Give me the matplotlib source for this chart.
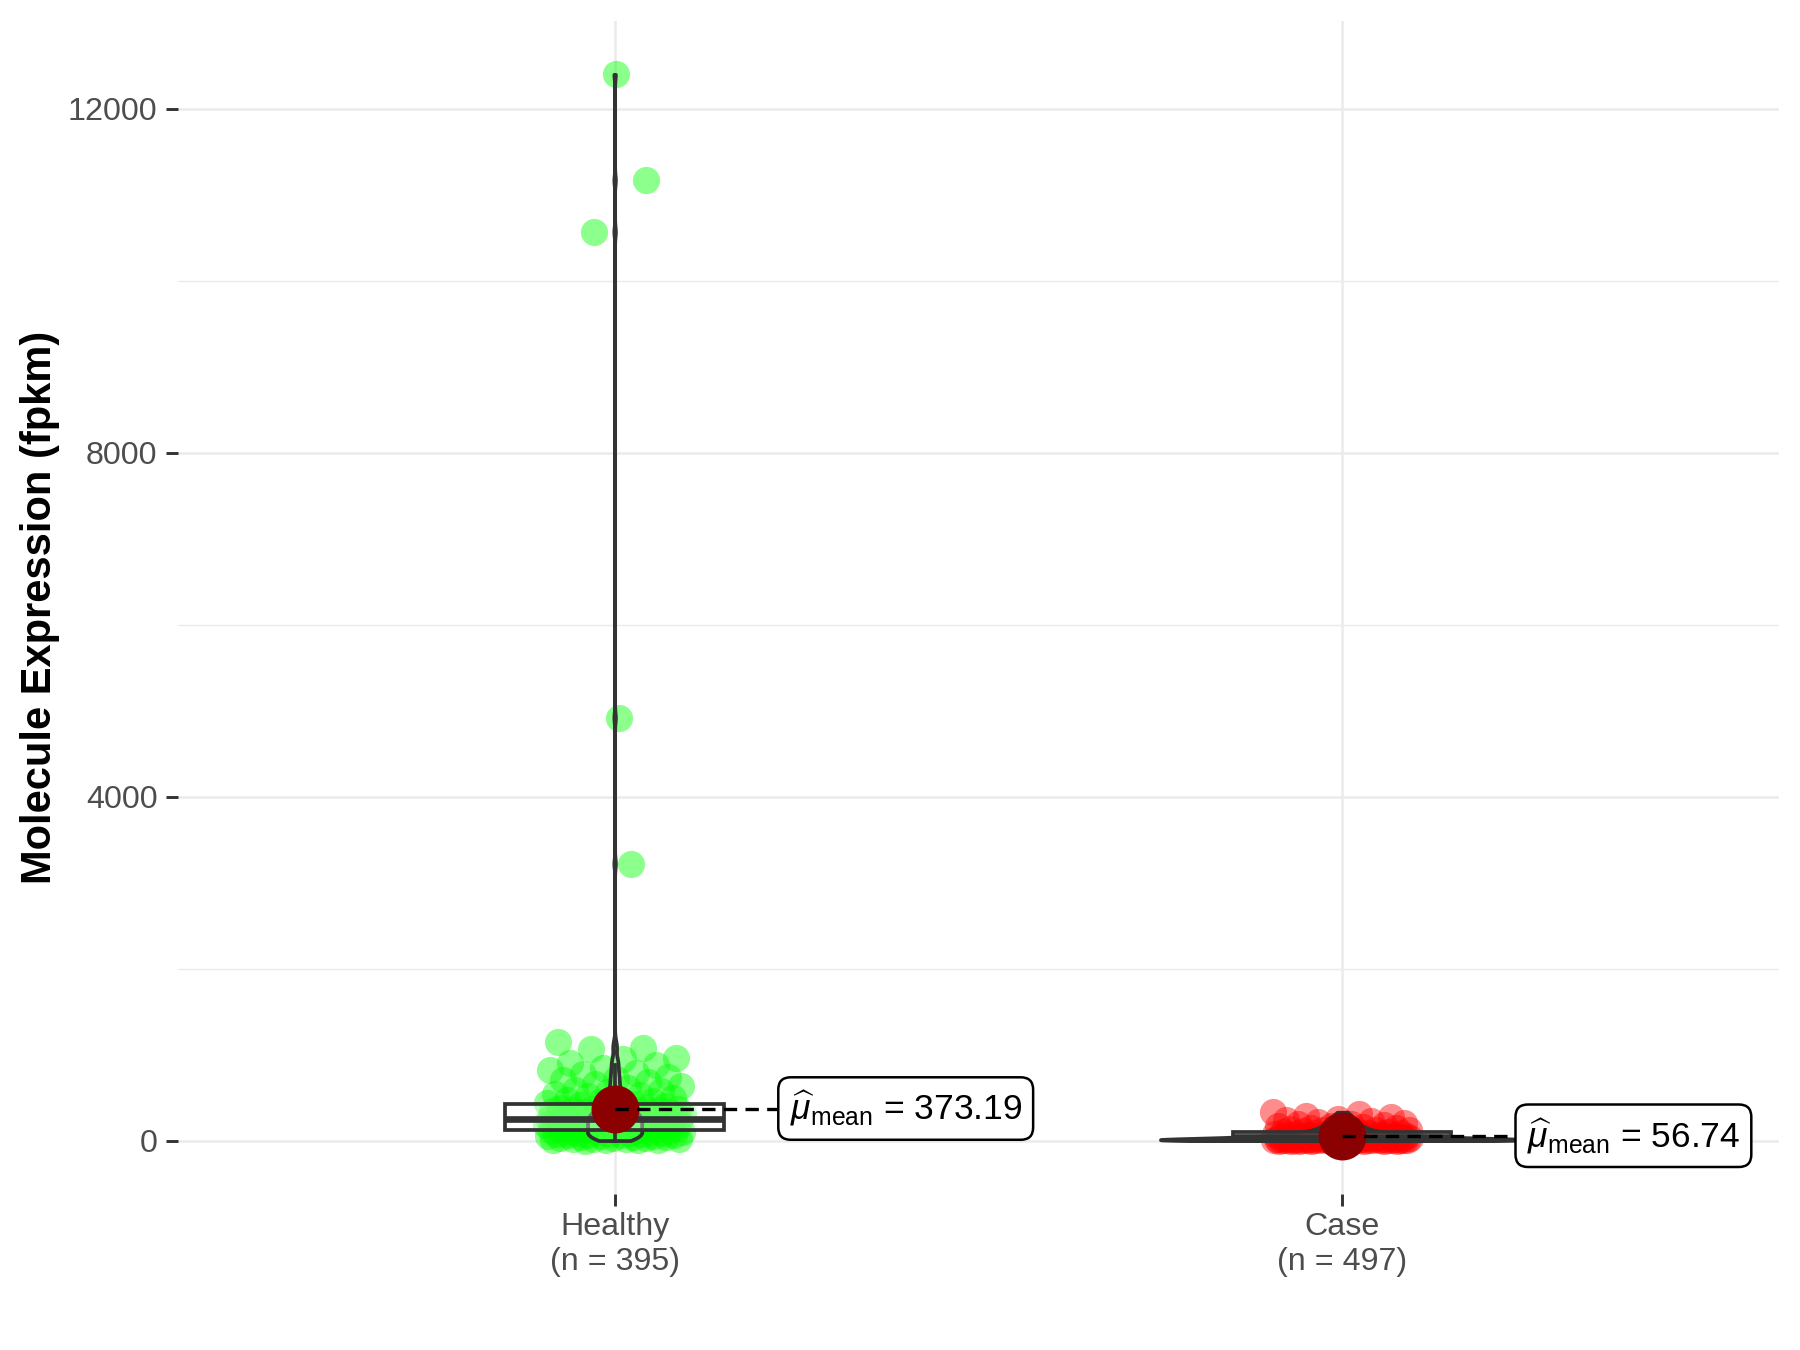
import numpy as np
import matplotlib
matplotlib.use("Agg")
import matplotlib.pyplot as plt

# Data
groups = ["Healthy", "Case"]
group_n = [395, 497]
group_means = [373.19, 56.74]

healthy = [12400, 11170, 10570, 4920, 3220,
           1150, 1080, 1065, 960, 945, 905, 880, 850, 820, 790, 770, 745, 720, 700, 680, 655, 630, 610,
           590, 575, 560, 545, 530, 515, 500, 485, 470, 458, 446, 434, 422, 410, 400, 392, 385,
           378, 372, 369, 363, 360, 355, 351, 347, 340, 337, 333, 327, 322, 318, 313, 309, 305, 300,
           296, 293, 288, 284, 279, 275, 271, 268, 264, 259, 256, 252, 249, 246, 244, 241,
           238, 235, 231, 228, 224, 220, 216, 212, 208, 204, 199, 195, 191, 187, 183, 178, 174,
           170, 166, 162, 158, 154, 150, 146, 142, 138, 134, 130, 126, 122, 118, 115, 112,
           108, 104, 100, 97, 93, 90, 86, 82, 79, 75, 71, 68, 64, 60, 57, 53, 49, 46, 42, 38,
           35, 31, 27, 24, 20, 17, 14, 11, 8, 5, 3, 1]
# horizontal jitter of the isolated high points
healthy_outlier_jitter = [0.002, 0.043, -0.028, 0.006, 0.022]

case = [330, 305, 290, 270, 255, 240, 228, 215, 205, 196, 188, 180, 172, 165, 158, 151, 145, 139,
        133, 128, 123, 118, 113, 109, 105, 101, 97, 94, 91, 88, 85, 82, 79, 76, 74, 72, 70, 67,
        65, 63, 61, 59, 57, 55, 53, 51, 49, 47, 45, 44, 42, 41, 39, 38, 36, 35, 34, 32, 31, 30,
        29, 28, 27, 26, 25, 24, 23, 22, 21, 20, 19, 18, 17, 16, 15, 14, 13, 12, 11, 10, 9, 9,
        8, 8, 7, 7, 6, 6, 5, 5, 4, 4, 3, 3, 3, 2, 2, 2, 1, 1, 1, 1, 0.5, 0.5, 0.3, 0.2, 0.1, 0.1]

point_colors = ["#00FF00", "#FF0000"]
violin_widths = [0.075, 0.5]
bandwidths = [55, 14]

plt.rcParams["font.family"] = ["Liberation Sans", "DejaVu Sans"]
plt.rcParams["mathtext.fontset"] = "custom"
plt.rcParams["mathtext.rm"] = "Liberation Sans"
plt.rcParams["mathtext.it"] = "Liberation Sans:italic"

fig = plt.figure(figsize=(12, 9), dpi=150)
ax = fig.add_axes([0.0989, 0.1156, 0.8894, 0.8688])

data = [np.array(healthy, float), np.array(case, float)]
positions = [1, 2]

for i, vals in enumerate(data):
    pos = positions[i]
    # jittered points (deterministic spread)
    k = np.arange(len(vals))
    offs = ((k * 0.6180339887) % 1.0 - 0.5) * 0.19
    if i == 0:
        offs[:len(healthy_outlier_jitter)] = healthy_outlier_jitter
    ax.scatter(pos + offs, vals, s=170, color=point_colors[i], alpha=0.45,
               linewidths=0, zorder=2)

    # violin
    bw = bandwidths[i] / np.std(vals, ddof=1)
    vp = ax.violinplot([vals], positions=[pos], widths=violin_widths[i],
                       showextrema=False, bw_method=bw, points=600)
    for b in vp["bodies"]:
        b.set_facecolor((1, 1, 1, 0.2))
        b.set_edgecolor("#333333")
        b.set_linewidth(1.8)
        b.set_alpha(None)
        b.set_zorder(3)

    # box
    ax.boxplot([vals], positions=[pos], widths=0.3, showfliers=False, showcaps=False,
               patch_artist=True, manage_ticks=False,
               boxprops=dict(facecolor=(1, 1, 1, 0.35), edgecolor="#333333", linewidth=1.8),
               medianprops=dict(color="#333333", linewidth=3.2),
               whiskerprops=dict(color="#333333", linewidth=1.8),
               zorder=4)

    # mean point, segment and label
    m = group_means[i]
    ax.plot([pos], [m], "o", ms=22, color="#8B0000", zorder=5)
    ax.plot([pos, pos + 0.4], [m, m], color="black", lw=1.6,
            linestyle=(0, (4, 2.5)), zorder=6)
    ax.text(pos + 0.4, m, r"$\widehat{\mu}_{\mathrm{mean}}$ = " + f"{m:.2f}",
            ha="center", va="center", fontsize=17, color="black", zorder=7,
            bbox=dict(boxstyle="round,pad=0.32,rounding_size=0.35", facecolor="white",
                      edgecolor="black", linewidth=1.2))

ax.set_xlim(0.4, 2.6)
ax.set_ylim(-620, 13020)
ax.set_xticks(positions)
ax.set_xticklabels([f"{g}\n(n = {n})" for g, n in zip(groups, group_n)],
                   linespacing=1.2)
ax.set_yticks([0, 4000, 8000, 12000])
ax.set_yticks([2000, 6000, 10000], minor=True)

ax.grid(True, which="major", color="#EBEBEB", linewidth=1.2)
ax.grid(True, which="minor", axis="y", color="#EBEBEB", linewidth=0.7)
ax.set_axisbelow(True)
for s in ax.spines.values():
    s.set_visible(False)
ax.tick_params(axis="both", which="major", length=5.8, width=1.4, color="#333333",
               labelsize=15.5, labelcolor="#4D4D4D")
ax.tick_params(axis="y", pad=4)
ax.tick_params(axis="x", pad=3)
ax.tick_params(which="minor", length=0)

ax.set_ylabel("Molecule Expression (fpkm)", fontsize=20, fontweight="bold", labelpad=4)

fig.savefig("out.png", dpi=150)
